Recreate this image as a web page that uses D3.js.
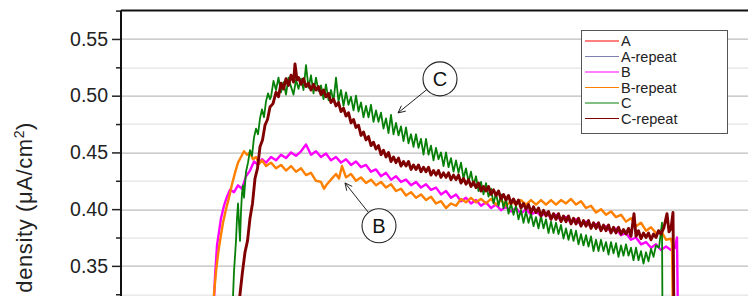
<!DOCTYPE html>
<html>
<head>
<meta charset="utf-8">
<script src="https://cdn.jsdelivr.net/npm/d3@7"></script>
<style>
  body { margin: 0; background: #fff; }
  svg { display: block; font-family: "Liberation Sans", Arial, sans-serif; }
</style>
</head>
<body>
<div id="chart"></div>
<script>
// Data: time (s) and current density (uA/cm2)
const seriesNames = ["A", "A-repeat", "B", "B-repeat", "C", "C-repeat"];
const yTicks = [0.35, 0.40, 0.45, 0.50, 0.55];
const yMinorTicks = [0.325, 0.375, 0.425, 0.475, 0.525, 0.575];

// A and A-repeat run below the visible window
const seriesA = [];
const seriesARepeat = [];

const seriesB = [
  [184,.300],[188,.340],[192,.368],[196,.380],[200,.392],[206,.403],[212,.411],[218,.417],[226,.415],[234,.421],
  [242,.418],[250,.429],[258,.434],[266,.442],[274,.439],[282,.444],[290,.441],[300,.446],[310,.443],[320,.448],
  [330,.445],[340,.450],[350,.447],[360,.451],[370,.457],[380,.448],[390,.451],[400,.446],[410,.449],[420,.443],
  [430,.446],[440,.441],[450,.444],[460,.439],[470,.442],[480,.437],[490,.439],[500,.433],[510,.435],[520,.429],
  [530,.432],[540,.426],[550,.429],[560,.424],[570,.426],[580,.421],[590,.424],[600,.419],[610,.422],[620,.417],
  [630,.419],[640,.413],[650,.416],[660,.410],[670,.413],[680,.407],[690,.410],[700,.405],[710,.408],[720,.403],
  [730,.406],[740,.401],[750,.404],[760,.399],[770,.402],[780,.398],[790,.401],[800,.396],[810,.400],[820,.395],
  [830,.398],[840,.394],[850,.397],[860,.392],[870,.395],[880,.390],[890,.393],[900,.388],[910,.391],[920,.386],
  [930,.389],[940,.384],[950,.387],[960,.382],[970,.385],[980,.380],[990,.383],[1000,.377],[1010,.379],[1020,.373],
  [1030,.375],[1040,.369],[1050,.371],[1060,.366],[1070,.369],[1080,.364],[1090,.367],[1100,.364],[1108,.366],[1112,.375],
  [1114,.300]
];

const seriesBRepeat = [
  [182,.300],[186,.325],[190,.345],[194,.360],[198,.372],[204,.388],[210,.400],[216,.410],[222,.422],[228,.432],
  [234,.441],[240,.446],[246,.451],[252,.448],[258,.450],[264,.444],[270,.446],[276,.440],[282,.443],[290,.438],
  [300,.441],[310,.436],[320,.439],[330,.434],[340,.438],[350,.433],[360,.436],[370,.430],[380,.432],[390,.425],
  [400,.424],[406,.418],[412,.422],[420,.426],[430,.431],[436,.427],[442,.438],[450,.428],[460,.431],[470,.425],
  [480,.428],[490,.423],[500,.426],[510,.421],[520,.424],[530,.419],[540,.422],[550,.416],[560,.418],[570,.412],
  [580,.415],[590,.410],[600,.413],[610,.408],[620,.411],[630,.405],[640,.407],[650,.401],[660,.405],[670,.403],
  [680,.409],[690,.406],[700,.410],[710,.406],[720,.409],[730,.405],[740,.409],[750,.404],[760,.408],[770,.403],
  [780,.407],[790,.404],[800,.408],[810,.404],[820,.408],[830,.404],[840,.408],[850,.404],[860,.408],[870,.404],
  [880,.408],[890,.405],[900,.409],[910,.404],[920,.407],[930,.401],[940,.403],[950,.397],[960,.400],[970,.395],
  [980,.398],[990,.393],[1000,.395],[1010,.389],[1020,.392],[1030,.385],[1040,.388],[1050,.381],[1060,.384],[1070,.379],
  [1080,.381],[1090,.373],[1100,.374],[1102,.370],[1104,.300]
];

const seriesC = [
  [222,.300],[226,.345],[230,.372],[232,.392],[234,.405],[236,.388],[238,.372],[240,.398],[242,.414],[244,.421],
  [246,.410],[250,.433],[254,.441],[258,.452],[262,.447],[266,.463],[270,.471],[274,.466],[278,.480],[282,.488],
  [286,.481],[290,.495],[294,.502],[298,.497],
  [300,.499],[305,.513],[310,.505],[315,.516],[320,.503],[325,.512],[330,.501],[335,.516],[340,.508],[345,.501],
  [350,.514],[355,.506],[360,.515],[365,.505],[370,.527],[375,.507],[380,.518],[385,.502],[390,.516],[395,.504],
  [400,.509],[405,.497],[410,.510],[415,.496],[420,.505],[425,.495],[430,.516],[435,.495],[440,.505],[445,.491],
  [450,.503],[455,.492],[460,.499],[465,.487],[470,.500],[475,.486],[480,.494],[485,.481],[490,.491],[495,.481],
  [500,.492],[505,.477],[510,.487],[515,.477],[520,.485],[525,.471],[530,.480],[535,.467],[540,.483],[545,.466],
  [550,.476],[555,.465],[560,.473],[565,.460],[570,.472],[575,.458],[580,.466],[585,.455],[590,.466],[595,.454],
  [600,.462],[605,.448],[610,.462],[615,.448],[620,.456],[625,.443],[630,.454],[635,.444],[640,.450],[645,.438],
  [650,.450],[655,.437],[660,.445],[665,.433],[670,.443],[675,.432],[680,.441],[685,.427],[690,.436],[695,.424],
  [700,.433],[705,.421],[710,.429],[715,.416],[720,.424],[725,.413],[730,.423],[735,.411],[740,.418],[745,.405],
  [750,.414],[755,.403],[760,.413],[765,.401],[770,.409],[775,.396],[780,.405],[785,.395],[790,.403],[795,.391],
  [800,.399],[805,.388],[810,.398],[815,.388],[820,.396],[825,.385],[830,.393],[835,.383],[840,.394],[845,.383],
  [850,.391],[855,.379],[860,.389],[865,.379],[870,.388],[875,.378],[880,.386],[885,.374],[890,.383],[895,.373],
  [900,.382],[905,.372],[910,.381],[915,.369],[920,.378],[925,.368],[930,.377],[935,.367],[940,.376],[945,.363],
  [950,.373],[955,.363],[960,.373],[965,.363],[970,.371],[975,.360],[980,.371],[985,.361],[990,.370],[995,.358],
  [1000,.368],[1005,.359],[1010,.369],[1015,.359],[1020,.366],[1025,.355],[1030,.366],[1035,.355],[1040,.363],[1045,.352],
  [1050,.362],[1055,.354],[1060,.365],[1065,.358],[1070,.368],[1076,.366],[1082,.388],[1083,.300]
];

const seriesCRepeat = [
  [232,.300],[238,.325],[243,.345],[248,.362],[253,.372],[258,.392],[263,.405],[268,.427],[273,.436],[278,.455],
  [283,.461],[288,.474],[293,.479],[298,.490],[304,.493],[310,.503],[315,.499],[320,.511],[325,.506],[330,.515],
  [335,.509],[340,.518],[345,.512],[348,.528],[352,.514],
  [355,.516],[360,.510],[365,.515],[370,.508],[375,.511],[380,.505],[385,.510],[390,.505],[395,.508],[400,.501],
  [405,.505],[410,.499],[415,.502],[420,.494],[425,.497],[430,.491],[435,.494],[440,.486],[445,.489],[450,.482],
  [455,.485],[460,.476],[465,.479],[470,.472],[475,.474],[480,.465],[485,.468],[490,.461],[495,.464],[500,.456],
  [505,.459],[510,.453],[515,.456],[520,.448],[525,.452],[530,.446],[535,.450],[540,.442],[545,.446],[550,.441],
  [555,.445],[560,.438],[565,.442],[570,.438],[575,.442],[580,.435],[585,.439],[590,.435],[595,.439],[600,.433],
  [605,.437],[610,.433],[615,.437],[620,.430],[625,.434],[630,.430],[635,.434],[640,.428],[645,.432],[650,.428],
  [655,.432],[660,.426],[665,.430],[670,.426],[675,.430],[680,.423],[685,.427],[690,.422],[695,.426],[700,.420],
  [705,.424],[710,.419],[715,.423],[720,.416],[725,.420],[730,.416],[735,.420],[740,.413],[745,.417],[750,.412],
  [755,.416],[760,.409],[765,.413],[770,.408],[775,.412],[780,.405],[785,.409],[790,.404],[795,.408],[800,.401],
  [805,.405],[810,.400],[815,.404],[820,.397],[825,.402],[830,.397],[835,.401],[840,.394],[845,.399],[850,.394],
  [855,.398],[860,.391],[865,.396],[870,.391],[875,.396],[880,.389],[885,.394],[890,.389],[895,.394],[900,.387],
  [905,.392],[910,.387],[915,.392],[920,.385],[925,.390],[930,.385],[935,.390],[940,.383],[945,.388],[950,.383],
  [955,.388],[960,.381],[965,.386],[970,.381],[975,.386],[980,.379],[985,.384],[990,.379],[995,.384],[1000,.378],
  [1005,.382],[1010,.378],[1015,.383],[1020,.376],[1026,.396],[1030,.376],[1035,.381],[1040,.374],[1045,.379],[1050,.375],
  [1055,.379],[1060,.373],[1065,.378],[1070,.375],[1075,.381],[1080,.378],[1086,.384],[1092,.396],[1096,.380],[1100,.383],
  [1104,.397],[1106,.300]
];

const allSeries = [seriesA, seriesARepeat, seriesB, seriesBRepeat, seriesC, seriesCRepeat];

// Callouts: label, circle centre (t, value), arrow tip (t, value)
const calloutLabels = ["C", "B"];
const calloutCentres = [[638, 0.5148], [516, 0.3853]];
const calloutTips = [[554, 0.4848], [448, 0.4231]];

// Setup: dimensions
const svgWidth = 748, svgHeight = 296;
const margin = { top: 10.6, left: 121 };
const innerWidth = 650, innerHeight = 312;
const color = d3.scaleOrdinal(seriesNames,
  ["#ff0000", "#8080b0", "#ff00ff", "#ff8000", "#078007", "#800000"]);
const strokeWidths = [1.5, 1.5, 2.4, 2.4, 1.8, 2.9];

// Scales
const xScale = d3.scaleLinear().domain([0, 1300]).range([0, innerWidth]);
const yScale = d3.scaleLinear().domain([0.30, 0.575]).range([innerHeight, 0]);

const svgRoot = d3.select("#chart").append("svg")
  .attr("width", svgWidth).attr("height", svgHeight);

svgRoot.append("defs").append("clipPath").attr("id", "plot-clip")
  .append("rect").attr("width", innerWidth).attr("height", innerHeight);

const svg = svgRoot.append("g").attr("transform", `translate(${margin.left},${margin.top})`);

// Grid lines
svg.append("g").selectAll("line").data(yMinorTicks.slice(0, -1)).join("line")
  .attr("x1", 0).attr("x2", innerWidth)
  .attr("y1", d => Math.round(yScale(d)) + 0.5).attr("y2", d => Math.round(yScale(d)) + 0.5)
  .attr("stroke", "#dcdcdc").attr("stroke-width", 1);
svg.append("g").selectAll("line").data(yTicks).join("line")
  .attr("x1", 0).attr("x2", innerWidth)
  .attr("y1", d => Math.round(yScale(d)) + 0.5).attr("y2", d => Math.round(yScale(d)) + 0.5)
  .attr("stroke", "#bdbdbd").attr("stroke-width", 1.2);

// Lines
const line = d3.line().x(d => xScale(d[0])).y(d => yScale(d[1]));
svg.append("g").attr("clip-path", "url(#plot-clip)")
  .selectAll("path").data(allSeries).join("path")
  .attr("fill", "none")
  .attr("stroke", (d, i) => color(seriesNames[i]))
  .attr("stroke-width", (d, i) => strokeWidths[i])
  .attr("stroke-linejoin", "round")
  .attr("d", d => line(d));

// Callouts
calloutLabels.forEach((lab, i) => {
  const cx = xScale(calloutCentres[i][0]), cy = yScale(calloutCentres[i][1]);
  const tx = xScale(calloutTips[i][0]), ty = yScale(calloutTips[i][1]);
  const r = 17;
  const ang = Math.atan2(ty - cy, tx - cx);
  const sx = cx + r * Math.cos(ang), sy = cy + r * Math.sin(ang);
  const g = svg.append("g").attr("stroke", "#222").attr("fill", "none").attr("stroke-width", 1);
  g.append("line").attr("x1", sx).attr("y1", sy).attr("x2", tx).attr("y2", ty);
  const head = 8, spread = 0.45;
  const back = Math.atan2(sy - ty, sx - tx);
  g.append("polyline").attr("points", [
    [tx + head * Math.cos(back - spread), ty + head * Math.sin(back - spread)],
    [tx, ty],
    [tx + head * Math.cos(back + spread), ty + head * Math.sin(back + spread)]
  ].map(p => p.join(",")).join(" "));
  svg.append("circle").attr("cx", cx).attr("cy", cy).attr("r", r)
    .attr("fill", "#fff").attr("stroke", "#222").attr("stroke-width", 1.1);
  svg.append("text").attr("x", cx).attr("y", cy + 7)
    .attr("text-anchor", "middle").attr("font-size", 20).attr("fill", "#111").text(lab);
});

// Axes
const yAxis = svg.append("g")
  .call(d3.axisLeft(yScale).tickValues(yTicks).tickSize(9).tickPadding(4).tickFormat(d3.format(".2f")));
yAxis.select(".domain").remove();
yAxis.selectAll(".tick line").attr("stroke", "#222").attr("stroke-width", 1.5);
yAxis.selectAll(".tick text").attr("font-size", 19.5).attr("fill", "#222")
  .attr("font-family", "'Liberation Sans', Arial, sans-serif");

const yMinor = svg.append("g")
  .call(d3.axisLeft(yScale).tickValues(yMinorTicks).tickSize(5).tickFormat(""));
yMinor.select(".domain").remove();
yMinor.selectAll(".tick line").attr("stroke", "#222").attr("stroke-width", 1.5);

// Frame (left and top)
svg.append("line").attr("x1", 0).attr("x2", 0).attr("y1", 0).attr("y2", innerHeight)
  .attr("stroke", "#111").attr("stroke-width", 2);
svg.append("line").attr("x1", 0).attr("x2", innerWidth).attr("y1", 0).attr("y2", 0)
  .attr("stroke", "#111").attr("stroke-width", 2);

// Y axis label (its start runs off the bottom of the crop, as in the source)
const yLabel = svgRoot.append("text")
  .attr("transform", "translate(32,122) rotate(-90)")
  .attr("text-anchor", "end").attr("font-size", 22).attr("letter-spacing", 0.6)
  .attr("fill", "#222");
yLabel.append("tspan").text("Current density (\u03bcA/cm");
yLabel.append("tspan").attr("dy", -8).attr("font-size", 14).text("2");
yLabel.append("tspan").attr("dy", 8).text(")");

// Legend
const legend = svgRoot.append("g");
legend.append("rect").attr("x", 581.5).attr("y", 30.5).attr("width", 146).attr("height", 103)
  .attr("fill", "#fff").attr("stroke", "#555").attr("stroke-width", 1);
seriesNames.forEach((name, i) => {
  const ly = 41 + i * 15.5;
  legend.append("line").attr("x1", 585).attr("x2", 619).attr("y1", ly).attr("y2", ly)
    .attr("stroke", color(name)).attr("stroke-width", 1.2);
  legend.append("text").attr("x", 621).attr("y", ly + 5)
    .attr("font-size", 14.5).attr("fill", "#222").text(name);
});
</script>
</body>
</html>
